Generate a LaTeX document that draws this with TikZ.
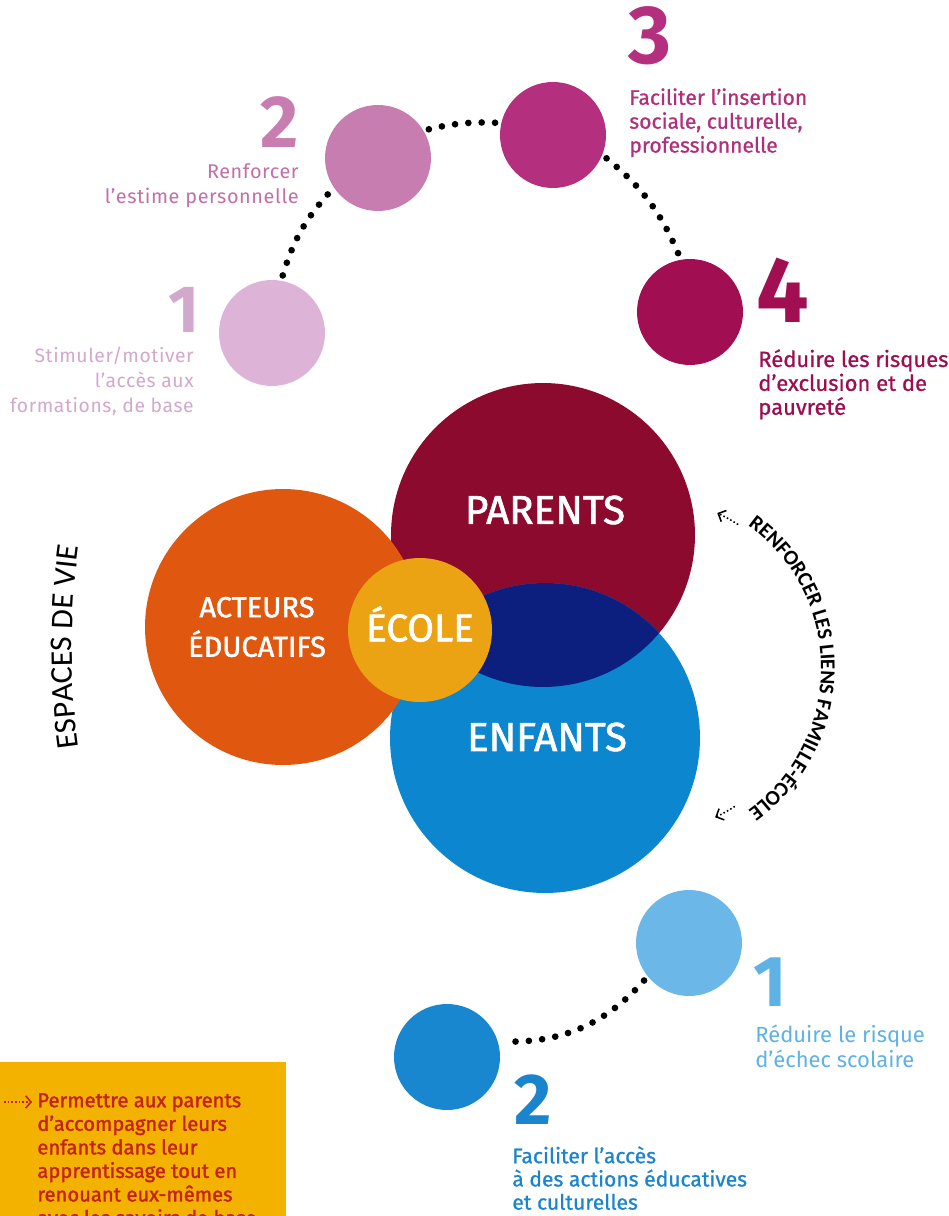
\documentclass[tikz,border=0pt]{standalone}
\usepackage{fontspec}
\setmainfont{Fira Sans}
\newfontfamily\fmed{Fira Sans}[FakeBold=0.8]
\newfontfamily\fsemi{Fira Sans}[FakeBold=1.6]
\newfontfamily\fsp{Fira Sans}[LetterSpace=3]
\newfontfamily\calib{Carlito}
\usetikzlibrary{decorations.text,arrows.meta}
\definecolor{pa}{HTML}{DDB3D8}
\definecolor{pb}{HTML}{C77DB0}
\definecolor{pc}{HTML}{B42F7D}
\definecolor{pd}{HTML}{A20E52}
\definecolor{ta}{HTML}{D3A8CD}
\definecolor{tb}{HTML}{C170A7}
\definecolor{tc}{HTML}{B0307B}
\definecolor{td}{HTML}{9C0E4F}
\definecolor{parc}{HTML}{8B0A2D}
\definecolor{enfc}{HTML}{0B86CF}
\definecolor{navyc}{HTML}{0C1E7E}
\definecolor{orc}{HTML}{E0570F}
\definecolor{ecc}{HTML}{ECA313}
\definecolor{bla}{HTML}{6BB8E8}
\definecolor{blb}{HTML}{1887D0}
\definecolor{tbla}{HTML}{5FB2E6}
\definecolor{tblb}{HTML}{1A84CC}
\definecolor{yel}{HTML}{F4B200}
\definecolor{yred}{HTML}{C4231C}
\begin{document}
\begin{tikzpicture}[x=0.02cm,y=-0.02cm,
  bub/.style={circle,inner sep=0pt,minimum size=2.12cm},
  bigc/.style={circle,inner sep=0pt,minimum size=#1},
  dotline/.style={black,line width=3.8pt,line cap=round,dash pattern=on 0pt off 7.6pt,shorten <=3pt,shorten >=3pt},
  num/.style={inner sep=0pt,font=\bfseries\fontsize{#1}{#1}\selectfont},
  lbl/.style={inner sep=0pt,font=\fsp\fontsize{11}{14.2}\selectfont},
  mlbl/.style={inner sep=0pt,font=\fmed\fontsize{12}{13.6}\selectfont},
  wl/.style={text=white,inner sep=0pt,font=\fsemi\fontsize{#1}{#1}\selectfont},
  arrowline/.style={black,line width=0.9pt,dash pattern=on 0.9pt off 1.3pt,-{Straight Barb[length=3.5pt,width=7pt]}}]
\useasboundingbox (0,0) rectangle (949,1216);
\fill[white] (0,0) rectangle (949,1216);

% --- top pink goals
\node[bub,fill=pa] (p1) at (272,333) {};
\node[bub,fill=pb] (p2) at (378,158) {};
\node[bub,fill=pc] (p3) at (553,135) {};
\node[bub,fill=pd] (p4) at (690,312) {};
\draw[dotline] (p1.80) to[bend left=13] (p2.214);
\draw[dotline] (p2.31) to[bend left=8] (p3.167);
\draw[dotline] (p3.-22) to[bend left=14] (p4.100);

\node[num=38pt,text=ta] (n1) at (184,310) {1};
\node[num=42pt,text=pb] (n2) at (280,122) {2};
\node[num=47pt,text=pc] (n3) at (650,36) {3};
\node[num=53pt,text=pd] (n4) at (783,290) {4};

\node[lbl,text=ta,anchor=north east,align=right] (l1) at (194,347) {Stimuler/motiver\\l’accès aux\\formations, de base};
\node[lbl,text=tb,font=\fsp\fontsize{11.3}{14.2}\selectfont,anchor=north east,align=right] (l2) at (299,163) {Renforcer\\l’estime personnelle};
\node[mlbl,text=tc,anchor=north west,align=left] (l3) at (629,88) {Faciliter l’insertion\\sociale, culturelle,\\professionnelle};
\node[mlbl,text=td,font=\fmed\fontsize{12.5}{13.6}\selectfont,anchor=north west,align=left] (l4) at (758,349) {Réduire les risques\\d’exclusion et de\\pauvreté};

% --- main circles
\node[bigc=6.08cm,fill=parc] (par) at (543,535) {};
\node[bigc=6.2cm,fill=enfc] (enf) at (545,738) {};
\begin{scope}
  \clip (par.center) circle[radius=3.04cm];
  \fill[navyc] (enf.center) circle[radius=3.1cm];
\end{scope}
\node[bigc=5.52cm,fill=orc] (act) at (283,627) {};
\node[bigc=2.88cm,fill=ecc] (eco) at (420,630) {};

\node[wl=23pt] (tpar) at (545,510) {PARENTS};
\node[wl=23pt] (tenf) at (547,737) {ENFANTS};
\node[wl=16.5pt,align=center,font=\fsemi\fontsize{16.5}{22.5}\selectfont] (tact) at (257,627) {ACTEURS\\ÉDUCATIFS};
\node[wl=22pt] (teco) at (420,624) {ÉCOLE};

% --- curved labels
\path[decorate,decoration={text along path,text align=center,
  text={|\calib\fontsize{18}{18}\selectfont|ESPACES DE VIE}}]
  (800,647) ++(166:728) arc[start angle=166,end angle=194,radius=728];
\path[decorate,decoration={text along path,text align=center,
  text={|\calib\bfseries\fontsize{12}{12}\selectfont|RENFORCER LES LIENS FAMILLE-ÉCOLE}}]
  (645,668) ++(-62:176) arc[start angle=-62,end angle=62,radius=176];
\coordinate (cc) at (645,668);
\draw[arrowline] (cc) ++(-57:171) arc[start angle=-57,end angle=-65,radius=171];
\draw[arrowline] (cc) ++(57:165) arc[start angle=57,end angle=65,radius=162];

% --- bottom blue goals
\node[bub,fill=bla] (b1) at (689,943) {};
\node[bub,fill=blb] (b2) at (447,1057) {};
\draw[dotline] (b1.219) to[bend left=25] (b2.17);
\node[num=41pt,text=tbla] (m1) at (770,982) {1};
\node[num=41pt,text=tblb] (m2) at (533,1100) {2};
\node[inner sep=0pt,font=\fontsize{12.5}{14}\selectfont,text=tbla,anchor=north west,align=left] (k1) at (755,1025) {Réduire le risque\\d’échec scolaire};
\node[mlbl,text=tblb,font=\fmed\fontsize{12}{13.2}\selectfont,anchor=north west,align=left] (k2) at (512,1146) {Faciliter l’accès\\à des actions éducatives\\et culturelles};

% --- yellow box
\node[fill=yel,anchor=north west,minimum width=5.72cm,minimum height=3.6cm,inner sep=0pt] (box) at (0,1062) {};
\node[inner sep=0pt,font=\fsemi\fontsize{11.5}{13.4}\selectfont,text=yred,anchor=north west,align=left] (boxt) at (37,1093)
  {Permettre aux parents\\d’accompagner leurs\\enfants dans leur\\apprentissage tout en\\renouant eux-mêmes\\avec les savoirs de base};
\coordinate (ba) at (4,1102);
\coordinate (bb) at (32,1102);
\draw[yred,line width=0.9pt,dash pattern=on 0.9pt off 1.2pt,-{Straight Barb[length=3pt,width=7pt]}] (ba) -- (bb);
\end{tikzpicture}
\end{document}
